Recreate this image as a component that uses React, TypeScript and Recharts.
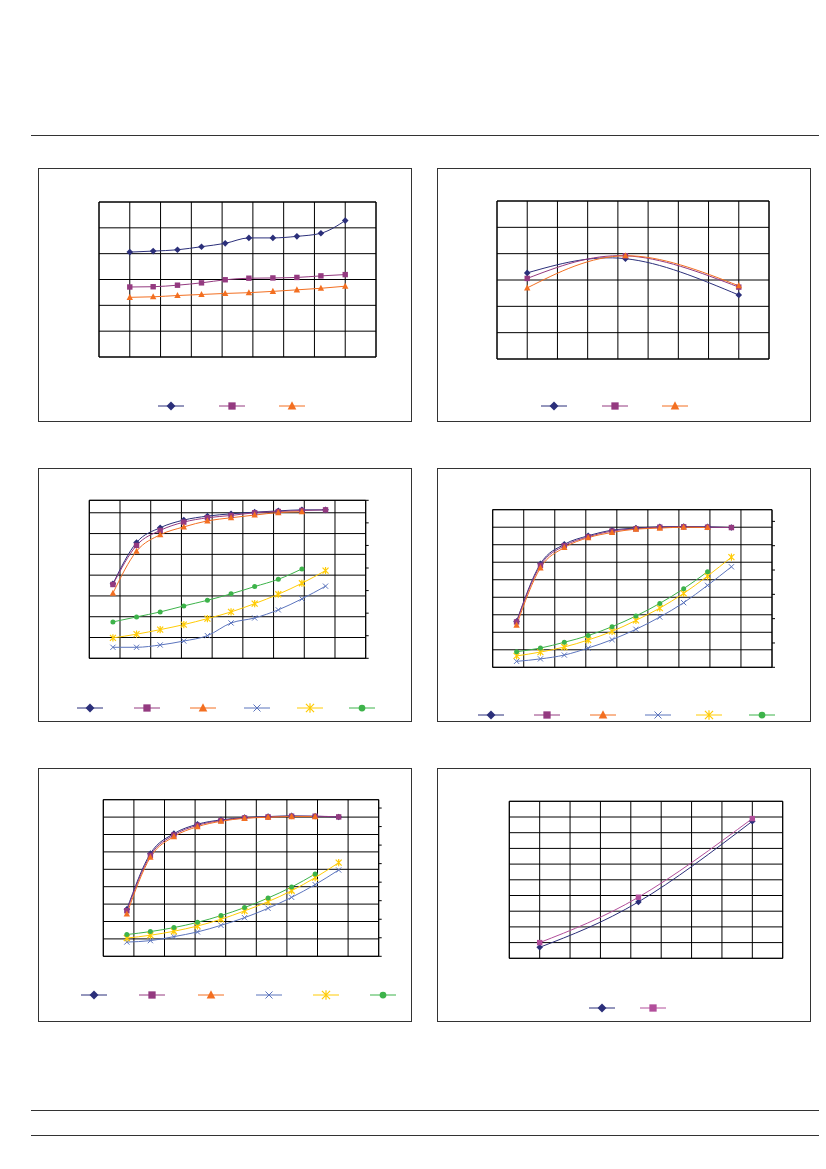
import React from 'react';
import { LineChart, Line, XAxis, YAxis, CartesianGrid, ReferenceArea } from 'recharts';

type Shape = 'diamond' | 'square' | 'triangle' | 'cross' | 'star' | 'circle';

const NAVY = '#2B2F7A';
const PURPLE = '#943A80';
const PINK = '#B24E9B';
const ORANGE = '#F36F21';
const BLUE = '#5B74BD';
const YELLOW = '#FFCB05';
const GREEN = '#3DB34A';

// chart 1 (top left)
const c1X = [1, 1.76, 2.55, 3.33, 4.1, 4.87, 5.65, 6.43, 7.21, 8];
const c1Navy = [4.06, 4.1, 4.15, 4.27, 4.4, 4.61, 4.61, 4.67, 4.79, 5.28];
const c1Purple = [2.71, 2.72, 2.78, 2.87, 2.99, 3.05, 3.06, 3.08, 3.14, 3.19];
const c1Orange = [2.31, 2.33, 2.38, 2.42, 2.46, 2.49, 2.54, 2.6, 2.66, 2.74];

// chart 2 (top right) – three temperatures
const tempX = [-40, 25, 100];
const c2Navy = [3.27, 3.81, 2.43];
const c2Purple = [3.06, 3.92, 2.73];
const c2Orange = [2.7, 3.92, 2.78];

// charts 3-5 share the same x points
const loadX = [1, 2, 3, 4, 5, 6, 7, 8, 9, 10];
const loadTicks = [0, 1.3, 2.6, 3.9, 5.2, 6.5, 7.8, 9.1, 10.4, 11.7];

const c3Navy = [3.58, 5.57, 6.28, 6.65, 6.84, 6.95, 7.03, 7.09, 7.14, 7.14];
const c3Purple = [3.55, 5.43, 6.15, 6.55, 6.76, 6.87, 7.0, 7.06, 7.11, 7.14];
const c3Orange = [3.13, 5.15, 5.94, 6.32, 6.61, 6.76, 6.89, 7.01, 7.05];
const c3Blue = [0.53, 0.53, 0.64, 0.83, 1.09, 1.7, 1.94, 2.33, 2.86, 3.47];
const c3Yellow = [0.98, 1.16, 1.38, 1.62, 1.91, 2.23, 2.63, 3.08, 3.61, 4.22];
const c3Green = [1.75, 1.99, 2.23, 2.52, 2.79, 3.1, 3.45, 3.8, 4.3];

const c4Navy = [2.62, 5.91, 7.02, 7.51, 7.83, 7.95, 8.02, 8.04, 8.02, 7.98];
const c4Purple = [2.59, 5.82, 6.94, 7.45, 7.78, 7.91, 8.0, 8.02, 8.0, 7.98];
const c4Orange = [2.41, 5.68, 6.84, 7.4, 7.7, 7.89, 7.95, 8.0, 7.98];
const c4Blue = [0.34, 0.48, 0.7, 1.1, 1.58, 2.17, 2.87, 3.69, 4.68, 5.74];
const c4Yellow = [0.65, 0.87, 1.16, 1.56, 2.05, 2.68, 3.38, 4.22, 5.21, 6.29];
const c4Green = [0.89, 1.1, 1.43, 1.81, 2.32, 2.93, 3.65, 4.49, 5.46];

const c5Navy = [2.7, 5.9, 7.05, 7.59, 7.84, 7.97, 8.03, 8.07, 8.05, 8.01];
const c5Purple = [2.62, 5.8, 6.97, 7.53, 7.8, 7.95, 8.01, 8.05, 8.05, 8.01];
const c5Orange = [2.43, 5.69, 6.88, 7.45, 7.76, 7.93, 7.99, 8.03, 8.03];
const c5Blue = [0.82, 0.9, 1.13, 1.4, 1.78, 2.22, 2.76, 3.39, 4.12, 4.96];
const c5Yellow = [1.05, 1.21, 1.44, 1.74, 2.13, 2.61, 3.14, 3.77, 4.52, 5.38];
const c5Green = [1.25, 1.42, 1.65, 1.95, 2.34, 2.8, 3.35, 3.98, 4.73];

// chart 6 (bottom right)
const c6Navy = [0.7, 3.59, 8.73];
const c6Pink = [1.0, 3.89, 8.9];

const range = (a: number, b: number) => Array.from({ length: b - a + 1 }, (_, i) => a + i);
const tempTicks = [-60, -40, -20, 0, 20, 40, 60, 80, 100, 120];

type SeriesDef = { values: number[]; color: string; shape: Shape };
type ChartDef = {
  left: number;
  top: number;
  margin: { top: number; right: number; bottom: number; left: number };
  xs: number[];
  xDomain: [number, number];
  xTicks: number[];
  yDomain: [number, number];
  yTicks: number[];
  right?: { domain: [number, number]; ticks: number[] };
  curve: 'monotone' | 'natural';
  series: SeriesDef[];
  legendY: number;
  legendXs: number[];
};

const six = (a: number[], b: number[], c: number[], d: number[], e: number[], f: number[]): SeriesDef[] => [
  { values: a, color: NAVY, shape: 'diamond' },
  { values: b, color: PURPLE, shape: 'square' },
  { values: c, color: ORANGE, shape: 'triangle' },
  { values: d, color: BLUE, shape: 'cross' },
  { values: e, color: YELLOW, shape: 'star' },
  { values: f, color: GREEN, shape: 'circle' },
];

const charts: ChartDef[] = [
  {
    left: 38, top: 168,
    margin: { top: 34, right: 36, bottom: 65, left: 61 },
    xs: c1X, xDomain: [0, 9], xTicks: range(0, 9),
    yDomain: [0, 6], yTicks: range(0, 6),
    curve: 'monotone',
    series: [
      { values: c1Navy, color: NAVY, shape: 'diamond' },
      { values: c1Purple, color: PURPLE, shape: 'square' },
      { values: c1Orange, color: ORANGE, shape: 'triangle' },
    ],
    legendY: 238, legendXs: [133, 194, 254],
  },
  {
    left: 437, top: 168,
    margin: { top: 33, right: 42, bottom: 63, left: 60 },
    xs: tempX, xDomain: [-60, 120], xTicks: tempTicks,
    yDomain: [0, 6], yTicks: range(0, 6),
    curve: 'natural',
    series: [
      { values: c2Navy, color: NAVY, shape: 'diamond' },
      { values: c2Purple, color: PURPLE, shape: 'square' },
      { values: c2Orange, color: ORANGE, shape: 'triangle' },
    ],
    legendY: 238, legendXs: [117, 178, 238],
  },
  {
    left: 38, top: 468,
    margin: { top: 32.3, right: 42.3, bottom: 63.7, left: 51.3 },
    xs: loadX, xDomain: [0, 11.7], xTicks: loadTicks,
    yDomain: [0, 7.6], yTicks: range(0, 7),
    right: { domain: [0, 7], ticks: range(0, 7) },
    curve: 'monotone',
    series: six(c3Navy, c3Purple, c3Orange, c3Blue, c3Yellow, c3Green),
    legendY: 240, legendXs: [52, 109, 165, 219, 272, 324],
  },
  {
    left: 437, top: 468,
    margin: { top: 41.7, right: 35, bottom: 54.7, left: 55.7 },
    xs: loadX, xDomain: [0, 11.7], xTicks: loadTicks,
    yDomain: [0, 9], yTicks: range(0, 9),
    right: { domain: [0, 6.48], ticks: range(0, 6) },
    curve: 'monotone',
    series: six(c4Navy, c4Purple, c4Orange, c4Blue, c4Yellow, c4Green),
    legendY: 247, legendXs: [54, 110, 166, 221, 272, 325],
  },
  {
    left: 38, top: 768,
    margin: { top: 31.7, right: 29.3, bottom: 65.7, left: 65.3 },
    xs: loadX, xDomain: [0, 11.7], xTicks: loadTicks,
    yDomain: [0, 9], yTicks: range(0, 9),
    right: { domain: [0, 8.45], ticks: range(0, 8) },
    curve: 'monotone',
    series: six(c5Navy, c5Purple, c5Orange, c5Blue, c5Yellow, c5Green),
    legendY: 227, legendXs: [56, 114, 173, 231, 288, 345],
  },
  {
    left: 437, top: 768,
    margin: { top: 33.3, right: 28.3, bottom: 63.7, left: 72.3 },
    xs: tempX, xDomain: [-60, 120], xTicks: tempTicks,
    yDomain: [0, 10], yTicks: range(0, 10),
    curve: 'natural',
    series: [
      { values: c6Navy, color: NAVY, shape: 'diamond' },
      { values: c6Pink, color: PINK, shape: 'square' },
    ],
    legendY: 240, legendXs: [165, 216],
  },
];

const baseSize: Record<Shape, number> = {
  diamond: 3.3, square: 2.7, triangle: 3.2, cross: 2.6, star: 3, circle: 2.5,
};

function Marker({ shape, cx, cy, color, k = 1 }: { shape: Shape; cx: number; cy: number; color: string; k?: number }) {
  const s = baseSize[shape] * k;
  switch (shape) {
    case 'diamond':
      return <polygon points={`${cx},${cy - s} ${cx + s},${cy} ${cx},${cy + s} ${cx - s},${cy}`} fill={color} />;
    case 'square':
      return <rect x={cx - s} y={cy - s} width={2 * s} height={2 * s} fill={color} />;
    case 'triangle':
      return <polygon points={`${cx},${cy - s * 1.1} ${cx + s},${cy + s * 0.8} ${cx - s},${cy + s * 0.8}`} fill={color} />;
    case 'cross':
      return <path d={`M${cx - s},${cy - s}L${cx + s},${cy + s}M${cx - s},${cy + s}L${cx + s},${cy - s}`} stroke={color} strokeWidth={1} fill="none" />;
    case 'star':
      return <path d={`M${cx - s},${cy - s}L${cx + s},${cy + s}M${cx - s},${cy + s}L${cx + s},${cy - s}M${cx},${cy - s * 1.2}L${cx},${cy + s * 1.2}`} stroke={color} strokeWidth={1.2} fill="none" />;
    default:
      return <circle cx={cx} cy={cy} r={s} fill={color} />;
  }
}

const PW = 374;
const PH = 254;

function Panel({ c }: { c: ChartDef }) {
  const data = c.xs.map((x, i) => {
    const row: Record<string, number | undefined> = { x };
    c.series.forEach((s, j) => { row['s' + j] = s.values[i]; });
    return row;
  });

  return (
    <div style={{ position: 'absolute', left: c.left, top: c.top, width: PW, height: PH }}>
      <div style={{ position: 'absolute', inset: 0, border: '1px solid #333', boxSizing: 'border-box' }} />
      <div style={{ position: 'absolute', left: 0, top: 0 }}>
        <LineChart width={PW} height={PH} data={data} margin={c.margin}>
          <XAxis dataKey="x" type="number" domain={c.xDomain} ticks={c.xTicks} interval={0} allowDataOverflow hide />
          <YAxis yAxisId="l" type="number" domain={c.yDomain} ticks={c.yTicks} interval={0} allowDataOverflow hide />
          {c.right && (
            <YAxis
              yAxisId="r"
              orientation="right"
              type="number"
              domain={c.right.domain}
              ticks={c.right.ticks}
              interval={0}
              allowDataOverflow
              width={4}
              tick={() => <g />}
              axisLine={false}
              tickLine={{ stroke: '#000', strokeWidth: 1 }}
              tickSize={3}
            />
          )}
          <CartesianGrid yAxisId="l" stroke="#000" strokeWidth={1} />
          <ReferenceArea
            yAxisId="l"
            x1={c.xDomain[0]}
            x2={c.xDomain[1]}
            y1={c.yDomain[0]}
            y2={c.yDomain[1]}
            fill="none"
            stroke="#000"
            strokeWidth={1}
          />
          {c.series.map((s, j) => (
            <Line
              key={j}
              yAxisId="l"
              dataKey={'s' + j}
              type={c.curve}
              stroke={s.color}
              strokeWidth={1}
              isAnimationActive={false}
              dot={(p: any) =>
                p.cy == null || p.value == null ? (
                  <g key={p.index} />
                ) : (
                  <Marker key={p.index} shape={s.shape} cx={p.cx} cy={p.cy} color={s.color} />
                )
              }
              activeDot={false}
            />
          ))}
        </LineChart>
      </div>
      <svg width={PW} height={PH} style={{ position: 'absolute', left: 0, top: 0, pointerEvents: 'none' }}>
        {c.series.map((s, j) => {
          const cx = c.legendXs[j];
          return (
            <g key={j}>
              <line x1={cx - 13} x2={cx + 13} y1={c.legendY} y2={c.legendY} stroke={s.color} strokeWidth={1} />
              <Marker shape={s.shape} cx={cx} cy={c.legendY} color={s.color} k={1.35} />
            </g>
          );
        })}
      </svg>
    </div>
  );
}

const rule = (top: number) => (
  <div style={{ position: 'absolute', left: 31, top, width: 788, height: 0, borderTop: '1px solid #333' }} />
);

export default function App() {
  return (
    <div style={{ position: 'absolute', left: 0, top: 0, width: 826, height: 1169, background: '#fff', overflow: 'hidden' }}>
      {rule(135)}
      {charts.map((c, i) => (
        <Panel key={i} c={c} />
      ))}
      {rule(1110)}
      {rule(1135)}
    </div>
  );
}
